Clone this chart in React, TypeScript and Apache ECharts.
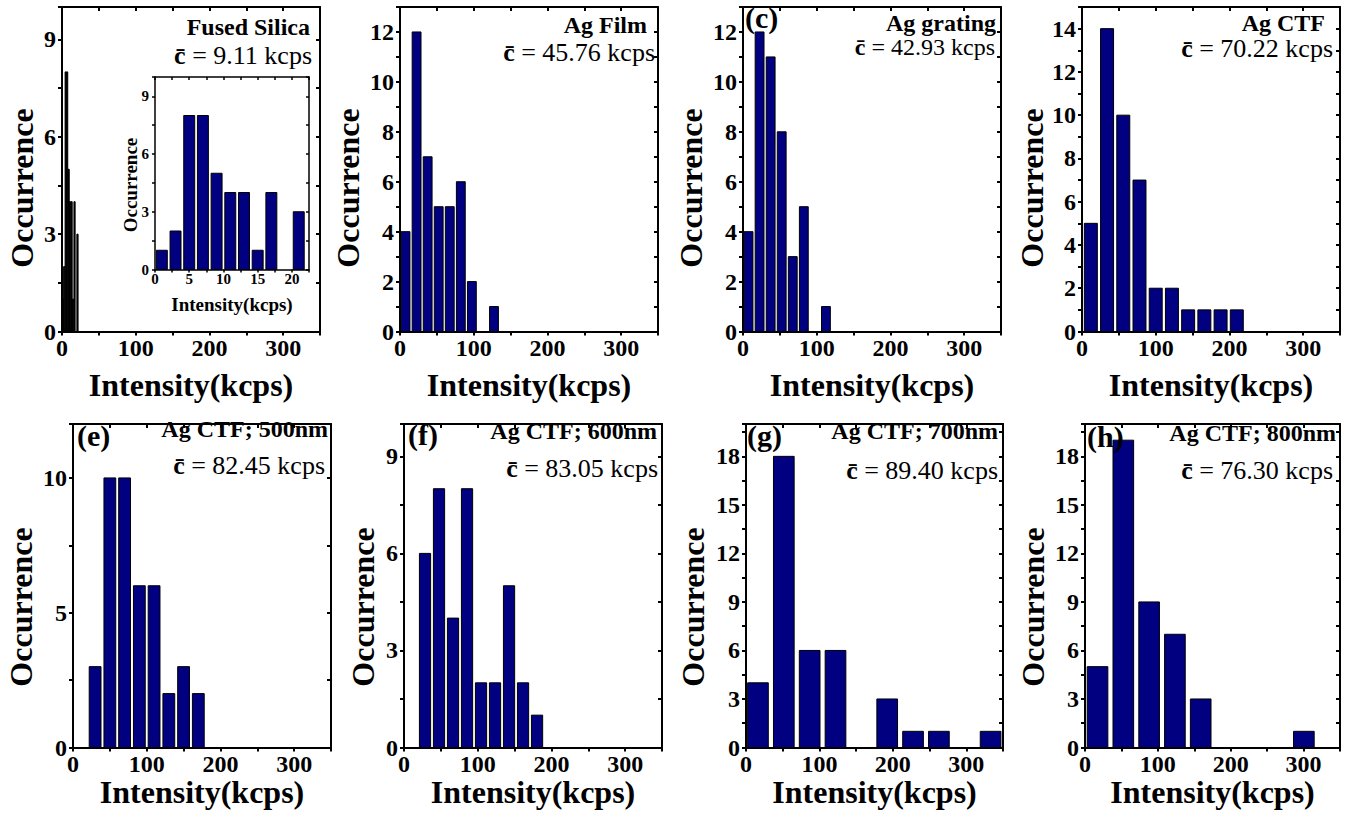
import React, { useEffect, useRef } from "react";
import * as echarts from "echarts";

const FONT = "'Liberation Serif', 'Times New Roman', serif";

// ---------- data ----------
const fusedSilicaBins = [1, 3, 5, 7, 9, 11, 13, 15, 17, 19, 21];
const fusedSilicaCounts = [1, 2, 8, 8, 5, 4, 4, 1, 4, 0, 3];
const agFilmBins = [7.5, 22.5, 37.5, 52.5, 67.5, 82.5, 97.5, 112.5, 127.5];
const agFilmCounts = [4, 12, 7, 5, 5, 6, 2, 0, 1];
const agGratingBins = [7.5, 22.5, 37.5, 52.5, 67.5, 82.5, 97.5, 112.5];
const agGratingCounts = [4, 12, 11, 8, 3, 5, 0, 1];
const agCtfBins = [12, 34, 56, 78, 100, 122, 144, 166, 188, 210];
const agCtfCounts = [5, 14, 10, 7, 2, 2, 1, 1, 1, 1];
const ctf500Bins = [30, 50, 70, 90, 110, 130, 150, 170];
const ctf500Counts = [3, 10, 10, 6, 6, 2, 3, 2];
const ctf600Bins = [28.5, 47.5, 66.5, 85.5, 104.5, 123.5, 142.5, 161.5, 180.5];
const ctf600Counts = [6, 8, 4, 8, 2, 2, 5, 2, 1];
const ctf700Bins = [16.3, 51.5, 86.7, 121.9, 157.1, 192.3, 227.5, 262.7, 297.9, 333.1];
const ctf700Counts = [4, 18, 6, 6, 0, 3, 1, 1, 0, 1];
const ctf800Bins = [17.2, 52.6, 88, 123.4, 158.8, 194.2, 229.6, 265, 300.4];
const ctf800Counts = [5, 19, 9, 7, 3, 0, 0, 0, 1];

const panelTitles = [
  "Fused Silica", "Ag Film", "Ag grating", "Ag CTF",
  "Ag CTF; 500nm", "Ag CTF; 600nm", "Ag CTF; 700nm", "Ag CTF; 800nm",
];
const meanValues = ["9.11", "45.76", "42.93", "70.22", "82.45", "83.05", "89.40", "76.30"];
const panelLetters = ["", "", "(c)", "", "(e)", "(f)", "(g)", "(h)"];

const xAxisMax = 350;
const xTickStep = 50;
const xLabelStep = 100;
const yAxisMax = [10, 13, 13, 15, 12, 10, 20, 20];
const yTickStep = [1.5, 1, 1, 1, 2.5, 1.5, 1.5, 1.5];
const yLabelStep = [3, 2, 2, 2, 5, 3, 3, 3];

const insetXMax = 22.5;
const insetXTickStep = 2.5;
const insetXLabelStep = 5;
const insetYMax = 10;
const insetYTickStep = 1.5;
const insetYLabelStep = 3;

const panelBins = [fusedSilicaBins, agFilmBins, agGratingBins, agCtfBins, ctf500Bins, ctf600Bins, ctf700Bins, ctf800Bins];
const panelCounts = [fusedSilicaCounts, agFilmCounts, agGratingCounts, agCtfCounts, ctf500Counts, ctf600Counts, ctf700Counts, ctf800Counts];

// ---------- layout ----------
const grids = [
  { left: 62, top: 7, width: 258, height: 324.5 },
  { left: 400, top: 7, width: 258, height: 324.5 },
  { left: 743, top: 7, width: 258, height: 324.5 },
  { left: 1082, top: 7, width: 258, height: 324.5 },
  { left: 73, top: 424, width: 258, height: 323.5 },
  { left: 404, top: 424, width: 258, height: 323.5 },
  { left: 746, top: 424, width: 257, height: 323.5 },
  { left: 1085, top: 424, width: 255, height: 323.5 },
];
const insetGrid = { left: 155, top: 77, width: 154, height: 192.5 };

// title positions: [line1 right, line1 baseline, line2 right, line2 baseline, line2 size]
const titlePos = [
  [310, 35, 312, 65, 26],
  [647, 33, 655, 62, 26],
  [996, 31, 995, 55, 24],
  [1325, 31, 1333, 58, 26],
  [328, 437, 325, 475, 26],
  [657, 439, 658, 478, 26],
  [998, 439, 998, 480, 26],
  [1336, 441, 1333, 480, 26],
];
const letterPos = [null, null, [745, 28], null, [77, 446], [408, 445], [747, 446], [1087, 447]];
const yNamePos = [
  [21.5, 188], [347.5, 188], [691, 188], [1032, 188],
  [21, 607], [363, 607], [693, 607], [1033, 607],
];

const isStep = (v: number, step: number) => Math.abs(v / step - Math.round(v / step)) < 1e-6;

function makeAxes(gridIndex: number, xMax: number, xt: number, xl: number, yMax: number, yt: number, yl: number,
  labelSize: number, nameSize: number, nameGap: number, lw: number, tickLen: number, xMargin: number) {
  const labelStyle = { fontFamily: FONT, fontWeight: "bold", fontSize: labelSize, color: "#000" };
  const line = { onZero: false, lineStyle: { color: "#000", width: lw } };
  const xa = [
    {
      type: "value", gridIndex, position: "bottom", min: 0, max: xMax, interval: xt,
      axisLine: { show: true, ...line }, splitLine: { show: false },
      axisTick: { show: true, inside: false, length: tickLen, lineStyle: { color: "#000", width: lw } },
      axisLabel: { ...labelStyle, margin: xMargin, formatter: (v: number) => (isStep(v, xl) ? String(v) : "") },
      name: "Intensity(kcps)", nameLocation: "middle", nameGap,
      nameTextStyle: { fontFamily: FONT, fontWeight: "bold", fontSize: nameSize, color: "#000" },
    },
    {
      type: "value", gridIndex, position: "top", min: 0, max: xMax, interval: xt,
      axisLine: { show: true, ...line }, splitLine: { show: false },
      axisTick: { show: true, inside: true, length: tickLen, lineStyle: { color: "#000", width: lw } },
      axisLabel: { show: false },
    },
  ];
  const ya = [
    {
      type: "value", gridIndex, position: "left", min: 0, max: yMax, interval: yt,
      axisLine: { show: true, ...line }, splitLine: { show: false },
      axisTick: { show: true, inside: false, length: tickLen, lineStyle: { color: "#000", width: lw } },
      axisLabel: { ...labelStyle, margin: 6, formatter: (v: number) => (isStep(v, yl) ? String(v) : "") },
    },
    {
      type: "value", gridIndex, position: "right", min: 0, max: yMax, interval: yt,
      axisLine: { show: true, ...line }, splitLine: { show: false },
      axisTick: { show: true, inside: true, length: tickLen, lineStyle: { color: "#000", width: lw } },
      axisLabel: { show: false },
    },
  ];
  return { xa, ya };
}

function makeSeries(axisIndex: number, bins: number[], counts: number[], fill: string, frac: number) {
  const binW = bins[1] - bins[0];
  return {
    type: "custom",
    xAxisIndex: axisIndex,
    yAxisIndex: axisIndex,
    data: bins.map((b, i) => [b, counts[i]]),
    encode: { x: 0, y: 1 },
    z: 3,
    renderItem: (_p: any, api: any) => {
      const c = api.value(0) as number;
      const v = api.value(1) as number;
      if (!v) return { type: "group", children: [] };
      const hw = (binW * frac) / 2;
      const a = api.coord([c - hw, 0]);
      const b = api.coord([c + hw, v]);
      return {
        type: "rect",
        shape: { x: a[0], y: b[1], width: b[0] - a[0], height: a[1] - b[1] },
        style: { fill, stroke: "#000", lineWidth: 1 },
      };
    },
  };
}

function textEl(text: string, x: number, y: number, size: number, weight: string, align: string, extra: any = {}) {
  return {
    type: "text", x, y, z: 100, ...extra,
    style: {
      text, fontFamily: FONT, fontSize: size, fontWeight: weight, fill: "#000",
      align, textAlign: align, verticalAlign: "middle", textVerticalAlign: "middle",
    },
  };
}

export default function App() {
  const ref = useRef<HTMLDivElement>(null);
  useEffect(() => {
    if (!ref.current) return;
    const chart = echarts.init(ref.current, undefined, { renderer: "svg" });
    const xAxes: any[] = [];
    const yAxes: any[] = [];
    const series: any[] = [];
    const gridOpts: any[] = [];
    const graphics: any[] = [];

    grids.forEach((g, i) => {
      gridOpts.push({ ...g, containLabel: false });
      const gap = i < 4 ? 37 : 28;
      const { xa, ya } = makeAxes(i, xAxisMax, xTickStep, xLabelStep, yAxisMax[i], yTickStep[i], yLabelStep[i], 24, 32, gap, 2, 4, 4);
      xAxes.push(...xa);
      yAxes.push(...ya);
      series.push(makeSeries(2 * i, panelBins[i], panelCounts[i], i === 0 ? "#000" : "#000080", 0.8));

      const [r1, b1, r2, b2, s2] = titlePos[i];
      graphics.push(textEl(panelTitles[i], r1, b1 - 0.35 * 24, 24, "bold", "right"));
      graphics.push({
        type: "text", x: r2, y: b2 - 0.35 * s2, z: 100,
        style: {
          text: `{b|c\u0304}{n| = ${meanValues[i]} kcps}`,
          fontFamily: FONT, fontSize: s2, fill: "#000",
          align: "right", textAlign: "right", verticalAlign: "middle", textVerticalAlign: "middle",
          rich: {
            b: { fontFamily: FONT, fontSize: s2, fontWeight: "bold", fill: "#000" },
            n: { fontFamily: FONT, fontSize: s2, fontWeight: "normal", fill: "#000" },
          },
        },
      });
      const lp = letterPos[i];
      if (lp && panelLetters[i]) {
        graphics.push(textEl(panelLetters[i], lp[0], lp[1] - 0.35 * 30, 30, "bold", "left"));
      }
      const [yx, yy] = yNamePos[i];
      graphics.push(textEl("Occurrence", yx, yy, 32, "bold", "center", { rotation: Math.PI / 2 }));
    });

    // inset
    gridOpts.push({ ...insetGrid, containLabel: false, show: true, backgroundColor: "#fff", borderWidth: 0 });
    const inset = makeAxes(8, insetXMax, insetXTickStep, insetXLabelStep, insetYMax, insetYTickStep, insetYLabelStep, 15, 19, 25, 1.5, 3, 2);
    xAxes.push(...inset.xa);
    yAxes.push(...inset.ya);
    series.push(makeSeries(16, fusedSilicaBins, fusedSilicaCounts, "#000080", 0.8));
    graphics.push(textEl("Occurrence", 130, 185, 19, "bold", "center", { rotation: Math.PI / 2 }));

    chart.setOption({
      animation: false,
      backgroundColor: "#fff",
      grid: gridOpts,
      xAxis: xAxes,
      yAxis: yAxes,
      series,
      graphic: { elements: graphics },
    });
    return () => chart.dispose();
  }, []);
  return (
    <div
      ref={ref}
      style={{ position: "fixed", left: 0, top: 0, width: 1349, height: 825, background: "#fff" }}
    />
  );
}
